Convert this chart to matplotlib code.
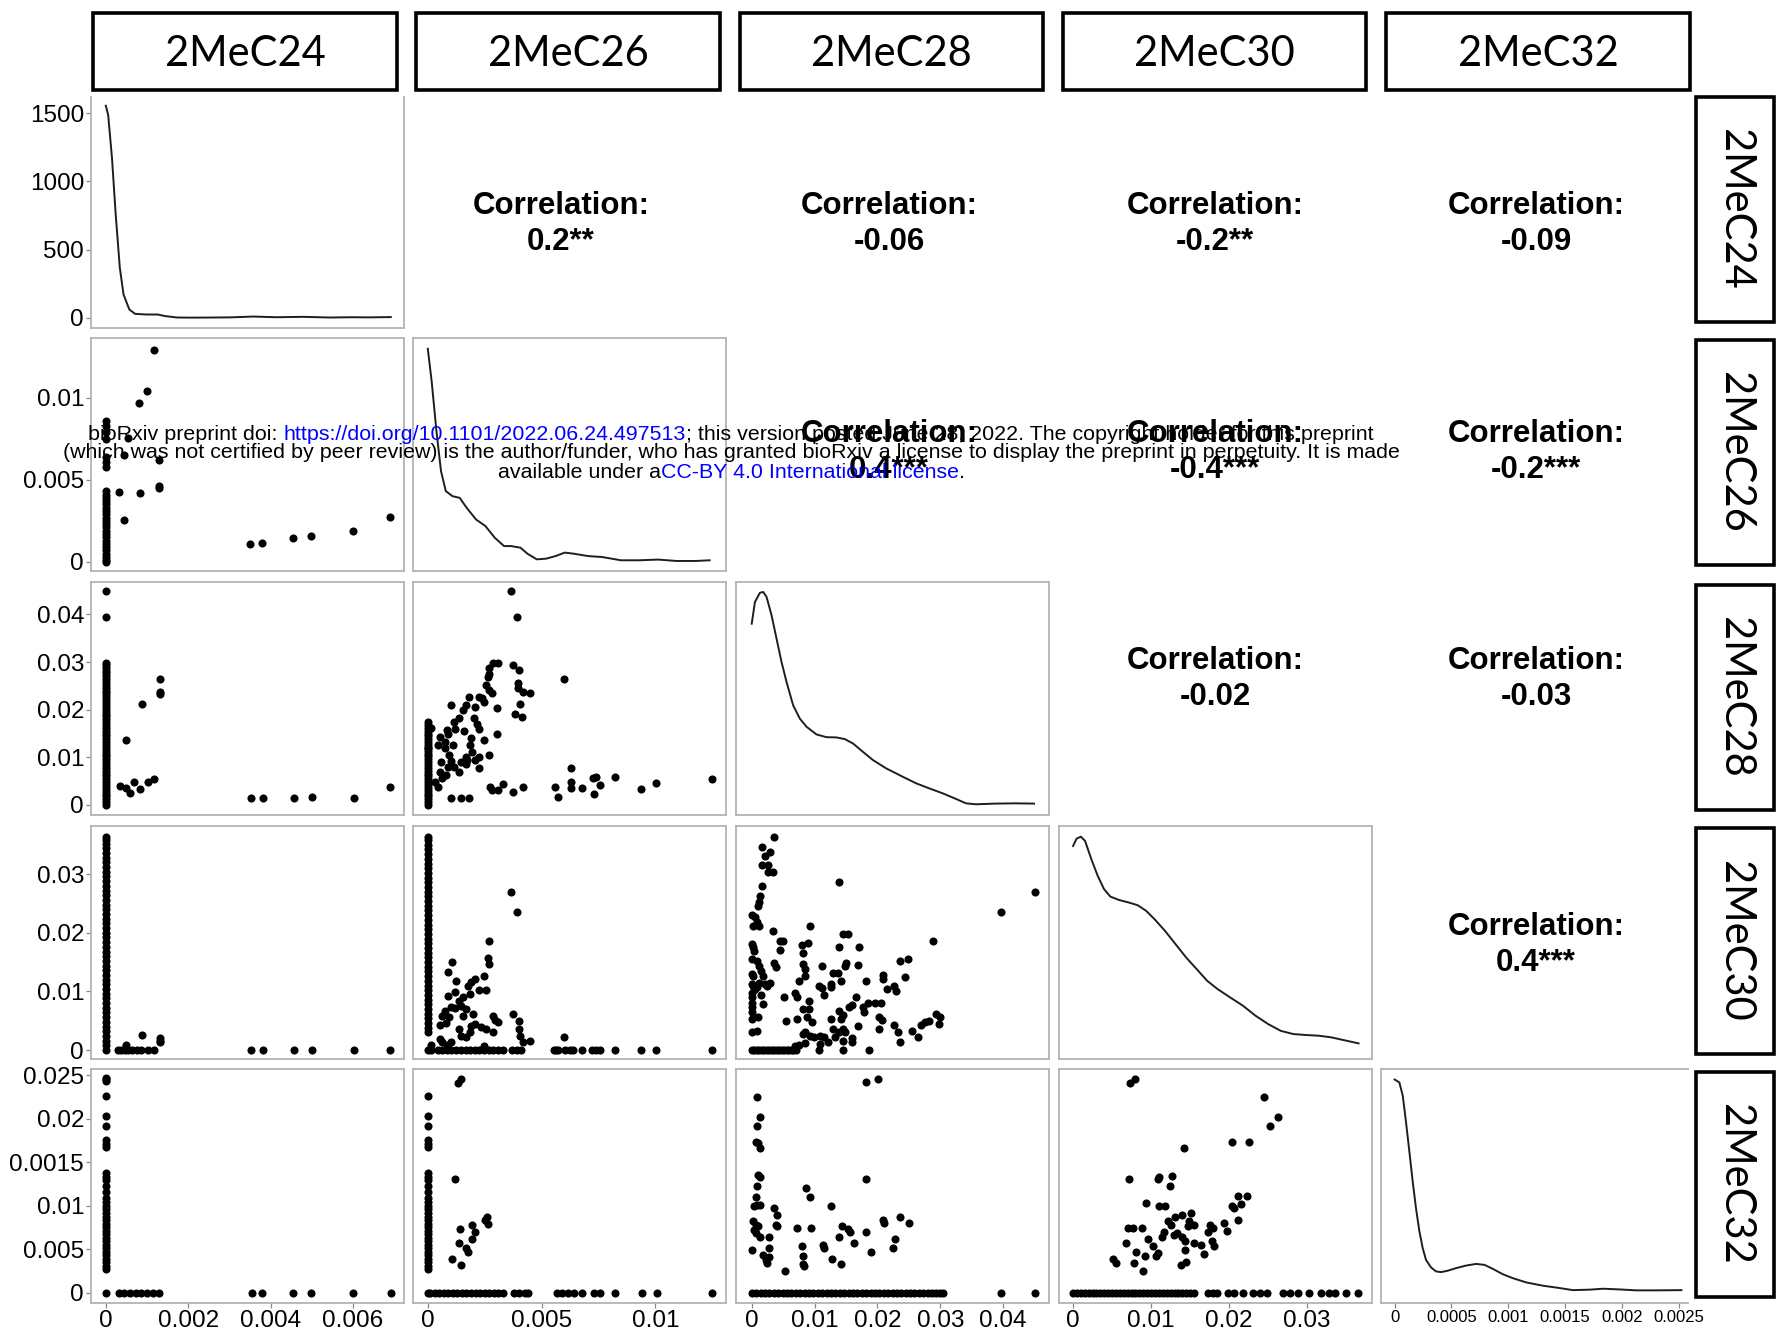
import numpy as np
import matplotlib
matplotlib.use("Agg")
import matplotlib.pyplot as plt
from matplotlib.patches import Rectangle
from matplotlib.offsetbox import TextArea, HPacker, VPacker, AnnotationBbox

# ---------------- data ----------------
variables = ["2MeC24", "2MeC26", "2MeC28", "2MeC30", "2MeC32"]

corr_cells = [(0, 1), (0, 2), (0, 3), (0, 4), (1, 2), (1, 3), (1, 4), (2, 3), (2, 4), (3, 4)]
corr_values = ["0.2**", "-0.06", "-0.2**", "-0.09", "0.4***", "-0.4***", "-0.2***", "-0.02", "-0.03", "0.4***"]

x_ticks = [[0, 0.002, 0.004, 0.006], [0, 0.005, 0.01], [0, 0.01, 0.02, 0.03, 0.04],
           [0, 0.01, 0.02, 0.03], [0, 0.0005, 0.001, 0.0015, 0.002, 0.0025]]
x_ticklabels = [["0", "0.002", "0.004", "0.006"], ["0", "0.005", "0.01"],
                ["0", "0.01", "0.02", "0.03", "0.04"], ["0", "0.01", "0.02", "0.03"],
                ["0", "0.0005", "0.001", "0.0015", "0.002", "0.0025"]]
y_ticks = [[0, 500, 1000, 1500], [0, 0.005, 0.01], [0, 0.01, 0.02, 0.03, 0.04],
           [0, 0.01, 0.02, 0.03], [0, 0.005, 0.01, 0.015, 0.02, 0.025]]
y_ticklabels = [["0", "500", "1000", "1500"], ["0", "0.005", "0.01"],
                ["0", "0.01", "0.02", "0.03", "0.04"], ["0", "0.01", "0.02", "0.03"],
                ["0", "0.005", "0.01", "0.0015", "0.02", "0.025"]]

# density curves (diagonal)
dens24_x = [0.0, 0.000057, 0.00015, 0.00024, 0.00034, 0.00043, 0.00057, 0.00071, 0.00098, 0.00126,
            0.00145, 0.00173, 0.0021, 0.00265, 0.00302, 0.00358, 0.00414, 0.00479, 0.00543, 0.00599,
            0.00636, 0.00692]
dens24_y = [1556, 1488, 1171, 756, 366, 171, 61, 29, 24, 24, 12, 2, 1, 2, 3, 9, 4, 7, 2, 4, 3, 5]

dens26_x = [0.0, 0.00017, 0.00038, 0.00058, 0.00079, 0.00109, 0.0014, 0.00171, 0.00212, 0.00253,
            0.00294, 0.00335, 0.00366, 0.00407, 0.00438, 0.00479, 0.0052, 0.00561, 0.00602, 0.00643,
            0.00705, 0.00766, 0.00848, 0.0093, 0.01012, 0.01094, 0.01177, 0.01238]
dens26_y = [0.954, 0.814, 0.600, 0.429, 0.343, 0.321, 0.314, 0.271, 0.221, 0.193, 0.143, 0.107,
            0.107, 0.100, 0.074, 0.050, 0.053, 0.064, 0.079, 0.074, 0.064, 0.060, 0.046, 0.046,
            0.049, 0.043, 0.043, 0.046]

dens28_x = [0.0, 0.00051, 0.00131, 0.00184, 0.00236, 0.00316, 0.00395, 0.00474, 0.00554, 0.00659,
            0.00765, 0.00871, 0.01029, 0.01188, 0.01347, 0.01479, 0.01611, 0.0177, 0.01928, 0.0214,
            0.02404, 0.02616, 0.02827, 0.03039, 0.0325, 0.03409, 0.03567, 0.03884, 0.04202, 0.04492]
dens28_y = [0.821, 0.914, 0.954, 0.957, 0.936, 0.857, 0.757, 0.657, 0.571, 0.471, 0.414, 0.379,
            0.346, 0.334, 0.333, 0.326, 0.307, 0.271, 0.236, 0.200, 0.164, 0.136, 0.114, 0.093,
            0.069, 0.050, 0.046, 0.049, 0.050, 0.049]

dens30_x = [0.0, 0.00046, 0.001, 0.00154, 0.00235, 0.00316, 0.00397, 0.00478, 0.00585, 0.0072,
            0.00828, 0.00936, 0.01044, 0.01178, 0.01313, 0.01448, 0.01583, 0.01717, 0.01852, 0.02014,
            0.02175, 0.02337, 0.02499, 0.0266, 0.02822, 0.02984, 0.03146, 0.03307, 0.03469, 0.03658]
dens30_y = [0.914, 0.946, 0.954, 0.936, 0.857, 0.786, 0.729, 0.697, 0.683, 0.671, 0.660, 0.636,
            0.600, 0.550, 0.493, 0.436, 0.386, 0.336, 0.300, 0.264, 0.229, 0.186, 0.150, 0.121,
            0.107, 0.103, 0.100, 0.093, 0.081, 0.067]

dens32_x = [0.0, 0.000041, 0.000071, 0.0001, 0.00013, 0.000159, 0.000188, 0.000218, 0.000247,
            0.000276, 0.00032, 0.000364, 0.000408, 0.000467, 0.00054, 0.000628, 0.000716, 0.00079,
            0.000863, 0.000951, 0.00104, 0.001157, 0.001303, 0.00145, 0.001568, 0.001714, 0.001832,
            0.001979, 0.002125, 0.002301, 0.002522]
dens32_y = [0.955, 0.943, 0.887, 0.773, 0.645, 0.518, 0.404, 0.305, 0.234, 0.184, 0.152, 0.135,
            0.132, 0.138, 0.149, 0.160, 0.167, 0.163, 0.146, 0.123, 0.106, 0.088, 0.074, 0.064,
            0.055, 0.057, 0.061, 0.058, 0.054, 0.054, 0.055]

# scatter panels: row variable (y) vs column variable (x)
# 2MeC26 vs 2MeC24
p21_x = [0.00116, 0.00100, 0.00080, 0.00053, 0.00044, 0.00031, 0.00045, 0.00084, 0.00128, 0.00130,
         0.00130, 0.00351, 0.00378, 0.00455, 0.00497, 0.00601, 0.00690]
p21_y = [0.01293, 0.01040, 0.00970, 0.00755, 0.00650, 0.00428, 0.00253, 0.00420, 0.00620, 0.00448,
         0.00465, 0.00109, 0.00113, 0.00147, 0.00158, 0.00190, 0.00275]
p21_strip_y = [0.0000, 0.0001, 0.0003, 0.0005, 0.0007, 0.0009, 0.0011, 0.0013, 0.0015, 0.0017,
               0.0019, 0.0021, 0.0023, 0.0025, 0.0027, 0.0029, 0.0031, 0.0033, 0.0035, 0.0037,
               0.0039, 0.0041, 0.0043, 0.0058, 0.0061, 0.0064, 0.0075, 0.0079, 0.0083, 0.0086]

# 2MeC28 vs 2MeC24
p31_x = [0.00035, 0.00050, 0.00058, 0.00069, 0.00082, 0.00103, 0.00117, 0.00050, 0.00088, 0.00131,
         0.00131, 0.00131, 0.00353, 0.00381, 0.00458, 0.00500, 0.00602, 0.00691]
p31_y = [0.00398, 0.00350, 0.00245, 0.00489, 0.00336, 0.00475, 0.00545, 0.01363, 0.02118, 0.02642,
         0.02363, 0.02328, 0.00154, 0.00140, 0.00154, 0.00161, 0.00154, 0.00377]
p31_strip_y = [0.0000, 0.0006, 0.0012, 0.0018, 0.0024, 0.0030, 0.0036, 0.0042, 0.0048, 0.0054,
               0.0060, 0.0066, 0.0072, 0.0078, 0.0084, 0.0090, 0.0096, 0.0102, 0.0108, 0.0114,
               0.0120, 0.0126, 0.0132, 0.0138, 0.0144, 0.0150, 0.0156, 0.0162, 0.0168, 0.0174,
               0.0180, 0.0186, 0.0192, 0.0198, 0.0204, 0.0210, 0.0216, 0.0222, 0.0228, 0.0234,
               0.0240, 0.0246, 0.0252, 0.0258, 0.0264, 0.0270, 0.0276, 0.0282, 0.0288, 0.0294,
               0.0299, 0.0395, 0.0449]

# 2MeC28 vs 2MeC26
p32_x = [0.00365, 0.0039, 0.00288, 0.00308, 0.00268, 0.00376, 0.00400, 0.00396, 0.00396, 0.0042,
         0.00447, 0.00406, 0.00384, 0.00414, 0.00264, 0.00268, 0.00257, 0.00268, 0.00284, 0.00247,
         0.00227, 0.00237, 0.00182, 0.00206, 0.00166, 0.00155, 0.00104, 0.00135, 0.00114, 0.00202,
         0.00217, 0.00227, 0.00302, 0.00302, 0.00247, 0.00186, 0.00196, 0.00166, 0.00145, 0.00084,
         0.00074, 0.00053, 0.00047, 0.00074, 0.00094, 0.00114, 0.00088, 0.00135, 0.00172, 0.00206,
         0.00227, 0.00223, 0.00268, 0.00053, 0.00063, 0.00043, 0.00002, 0.00013, 0.00272, 0.00284,
         0.00308, 0.00329, 0.00376, 0.0042, 0.00104, 0.00145, 0.00182, 0.00559, 0.00574, 0.00629,
         0.00629, 0.00629, 0.00676, 0.00727, 0.00741, 0.00731, 0.00757, 0.00822, 0.00937, 0.01002,
         0.01247, 0.0060, 0.0009, 0.0012, 0.0016, 0.0011, 0.0019, 0.0006, 0.0010, 0.0017, 0.0008,
         0.0003]
p32_y = [0.0449, 0.0395, 0.0299, 0.0297, 0.0287, 0.0294, 0.0283, 0.0255, 0.0245, 0.0238,
         0.0234, 0.0213, 0.0190, 0.0185, 0.0269, 0.0274, 0.0252, 0.0241, 0.0234, 0.0217,
         0.0227, 0.0225, 0.0227, 0.0206, 0.0210, 0.0199, 0.0210, 0.0182, 0.0175, 0.0182,
         0.0171, 0.0159, 0.0203, 0.0150, 0.0136, 0.0126, 0.0112, 0.0101, 0.0091, 0.0157,
         0.0133, 0.0143, 0.0126, 0.0119, 0.0105, 0.0080, 0.0080, 0.0070, 0.0094, 0.0094,
         0.0077, 0.0101, 0.0105, 0.0070, 0.0056, 0.0038, 0.0119, 0.0161, 0.0038, 0.0031,
         0.0031, 0.0045, 0.0027, 0.0038, 0.00154, 0.00154, 0.00154, 0.0038, 0.0017, 0.0077,
         0.0049, 0.0035, 0.0035, 0.0057, 0.0059, 0.0024, 0.0042, 0.0059, 0.0033, 0.0047,
         0.0055, 0.0264, 0.0148, 0.0160, 0.0155, 0.0125, 0.0140, 0.0090, 0.0092, 0.0085, 0.0062,
         0.0048]
p32_strip_y = [0.0000, 0.0006, 0.0012, 0.0018, 0.0024, 0.0030, 0.0036, 0.0042, 0.0048, 0.0054,
               0.0060, 0.0066, 0.0072, 0.0078, 0.0084, 0.0090, 0.0096, 0.0102, 0.0108, 0.0114,
               0.0120, 0.0126, 0.0132, 0.0138, 0.0144, 0.0150, 0.0156, 0.0162, 0.0168, 0.0174]

# 2MeC30 vs 2MeC24
p41_x = [0.00050, 0.00088, 0.00131, 0.00131, 0.00131]
p41_y = [0.00085, 0.00256, 0.00200, 0.00160, 0.00130]
p41_base_x = [0.00029, 0.00038, 0.00046, 0.00054, 0.00063, 0.00075, 0.00086, 0.00103, 0.00117,
              0.00353, 0.00381, 0.00458, 0.00500, 0.00602, 0.00691]
p41_strip_y = [0.0000, 0.0008, 0.0016, 0.0024, 0.0032, 0.0040, 0.0048, 0.0056, 0.0064, 0.0072,
               0.0080, 0.0088, 0.0096, 0.0104, 0.0112, 0.0120, 0.0128, 0.0136, 0.0144, 0.0152,
               0.0160, 0.0168, 0.0176, 0.0184, 0.0192, 0.0200, 0.0208, 0.0216, 0.0224, 0.0232,
               0.0240, 0.0248, 0.0256, 0.0264, 0.0272, 0.0280, 0.0288, 0.0296, 0.0304, 0.0312,
               0.0320, 0.0328, 0.0336, 0.0344, 0.0352, 0.0358, 0.0364]

# 2MeC30 vs 2MeC26
p42_x = [0.00365, 0.0039, 0.00268, 0.00264, 0.00268, 0.00247, 0.00257, 0.00206, 0.0019, 0.00227,
         0.00176, 0.00108, 0.00088, 0.00125, 0.00088, 0.00121, 0.00186, 0.00155, 0.00135, 0.00145,
         0.00100, 0.00121, 0.00074, 0.00063, 0.00094, 0.0008, 0.00053, 0.00155, 0.00166, 0.0020,
         0.0019, 0.00206, 0.00233, 0.00257, 0.00135, 0.00145, 0.00186, 0.00166, 0.00288, 0.00294,
         0.00308, 0.00288, 0.00374, 0.0040, 0.0040, 0.00404, 0.0042, 0.00451, 0.000125, 0.00053,
         0.00063, 0.00084, 0.00104, 0.00247, 0.0060]
p42_y = [0.02687, 0.02346, 0.01863, 0.01562, 0.01465, 0.01267, 0.01028, 0.0121, 0.01153, 0.01028,
         0.01096, 0.01494, 0.01323, 0.0117, 0.00926, 0.00983, 0.00954, 0.00897, 0.00841, 0.00755,
         0.00727, 0.0071, 0.0067, 0.00585, 0.00557, 0.0046, 0.00426, 0.00585, 0.00699, 0.00613,
         0.00415, 0.00443, 0.00386, 0.00358, 0.00358, 0.00244, 0.00301, 0.00216, 0.00585, 0.00517,
         0.00471, 0.00301, 0.00613, 0.0050, 0.00358, 0.00244, 0.00131, 0.00159, 0.00085, 0.00187,
         0.00131, 0.00085, 0.00131, 0.00074, 0.00216]
p42_base_x = [0.0, 0.000125, 0.00043, 0.00063, 0.00084, 0.00104, 0.00125, 0.00145, 0.00166,
              0.00186, 0.00206, 0.00227, 0.00247, 0.00268, 0.00288, 0.00308, 0.00329, 0.0037,
              0.0039, 0.0041, 0.00553, 0.00563, 0.00574, 0.00604, 0.00625, 0.00639, 0.00676,
              0.0072, 0.00737, 0.00757, 0.00822, 0.00937, 0.01002, 0.01247]
p42_strip_y = [0.0030, 0.0038, 0.0046, 0.0054, 0.0062, 0.0070, 0.0078, 0.0086, 0.0094, 0.0102,
               0.0110, 0.0118, 0.0126, 0.0134, 0.0142, 0.0150, 0.0158, 0.0166, 0.0174, 0.0182,
               0.0190, 0.0198, 0.0206, 0.0214, 0.0222, 0.0230, 0.0238, 0.0246, 0.0254, 0.0262,
               0.0270, 0.0278, 0.0286, 0.0294, 0.0302, 0.0310, 0.0318, 0.0326, 0.0334, 0.0342,
               0.0350, 0.0358, 0.0364]

# 2MeC30 vs 2MeC28
p43_x = [0.00352, 0.00164, 0.00164, 0.00218, 0.00285, 0.00265, 0.00265, 0.00332, 0.00164, 0.01388,
         0.0451, 0.03962, 0.02878, 0.00131, 0.00118, 0.00104, 0.0, 0.00051, 0.00084, 0.00018,
         0.00118, 0.0092, 0.00332, 0.01455, 0.01535, 0.01388, 0.01709, 0.00452, 0.005, 0.00455,
         0.0, 0.0002, 0.0004, 0.00799, 0.009, 0.0082, 0.0, 0.00084, 0.00118, 0.00352,
         0.00385, 0.0082, 0.0084, 0.0112, 0.01508, 0.0149, 0.01689, 0.02357, 0.0249, 0.0,
         0.00018, 0.00151, 0.00185, 0.01288, 0.01374, 0.0085, 0.0209, 0.0209, 0.02443, 0.00753,
         0.01421, 0.01822, 0.0, 0.00018, 0.00051, 0.00084, 0.00118, 0.00218, 0.00251, 0.00285,
         0.01074, 0.01254, 0.02257, 0.0229, 0.02157, 0.0, 0.0, 0.0, 0.0, 0.0,
         0.00151, 0.00185, 0.00519, 0.00686, 0.0072, 0.00906, 0.0082, 0.01154, 0.0112, 0.01254,
         0.01388, 0.01455, 0.01421, 0.01555, 0.01589, 0.01656, 0.01776, 0.01789, 0.01856, 0.01956,
         0.02057, 0.01689, 0.0, 0.00104, 0.00552, 0.0072, 0.00886, 0.00906, 0.00953, 0.01254,
         0.0202, 0.02067, 0.02257, 0.02323, 0.02357, 0.02557, 0.02644, 0.02691, 0.02758, 0.02825,
         0.02939, 0.02992, 0.02972, 0.0, 0.00084, 0.0082, 0.0085, 0.0092, 0.00987, 0.0109,
         0.0115, 0.01288, 0.01388, 0.01455, 0.0149, 0.01321, 0.01455, 0.01589, 0.01589, 0.0202,
         0.00686, 0.00753, 0.0085, 0.0109, 0.0122]
p43_y = [0.0364, 0.0347, 0.0315, 0.0331, 0.0338, 0.0315, 0.0304, 0.0304, 0.0280, 0.0287,
         0.0269, 0.0235, 0.0186, 0.0263, 0.0253, 0.0246, 0.0231, 0.0226, 0.0218, 0.0211,
         0.0212, 0.0212, 0.0203, 0.0198, 0.0198, 0.0175, 0.0175, 0.0186, 0.0186, 0.0170,
         0.0181, 0.0175, 0.0169, 0.0179, 0.0183, 0.0166, 0.0156, 0.0152, 0.0144, 0.0149,
         0.0141, 0.0147, 0.0138, 0.0144, 0.0149, 0.0144, 0.0145, 0.0151, 0.0156, 0.0130,
         0.0127, 0.0135, 0.0127, 0.0132, 0.0132, 0.0127, 0.0128, 0.0121, 0.0125, 0.0118,
         0.0118, 0.0117, 0.0112, 0.0110, 0.0104, 0.0107, 0.0115, 0.0112, 0.0110, 0.0115,
         0.0110, 0.0112, 0.0110, 0.0101, 0.0104, 0.0098, 0.0090, 0.0081, 0.0073, 0.0064,
         0.0093, 0.0078, 0.0090, 0.0098, 0.0090, 0.0084, 0.0070, 0.0093, 0.0105, 0.0107,
         0.0067, 0.0059, 0.0053, 0.0073, 0.0076, 0.0090, 0.0073, 0.0064, 0.0081, 0.0081,
         0.0081, 0.0041, 0.0053, 0.0056, 0.0050, 0.0053, 0.0056, 0.0070, 0.0047, 0.0053,
         0.0056, 0.0052, 0.0043, 0.0030, 0.0013, 0.0033, 0.0022, 0.0043, 0.0048, 0.0050,
         0.0061, 0.0056, 0.0044, 0.0031, 0.0033, 0.0027, 0.0030, 0.0024, 0.0022, 0.0024,
         0.0023, 0.0036, 0.0031, 0.0036, 0.0030, 0.0022, 0.0016, 0.0020, 0.0013, 0.0036,
         0.0007, 0.0009, 0.0012, 0.0010, 0.0013]
p43_base_x = [0.0, 0.0004, 0.0008, 0.0012, 0.0016, 0.0020, 0.0024, 0.0028, 0.0032, 0.0036,
              0.0040, 0.0044, 0.0048, 0.0052, 0.0056, 0.0059, 0.0064, 0.0066, 0.0070, 0.0107,
              0.0145, 0.0186]

# 2MeC32 vs 2MeC24
p51_strip_y = [0.0247, 0.0245, 0.0243, 0.0226, 0.0203, 0.0192, 0.0175, 0.0171, 0.0167, 0.0137,
               0.0133, 0.0129, 0.0122, 0.0116, 0.0109, 0.0104, 0.0100, 0.0096, 0.0091, 0.0087,
               0.0083, 0.0079, 0.0075, 0.0071, 0.0067, 0.0063, 0.0059, 0.0055, 0.0051, 0.0047,
               0.0043, 0.0039, 0.0035, 0.0031, 0.0027, 0.0000]
p51_base_x = [0.000308, 0.000447, 0.000587, 0.000726, 0.000865, 0.001004, 0.001143, 0.001283,
              0.00354, 0.00379, 0.00455, 0.00497, 0.0060, 0.00692]

# 2MeC32 vs 2MeC26
p52_x = [0.00132, 0.00145, 0.00119, 0.00107, 0.00145, 0.00137, 0.00142, 0.00170, 0.00175, 0.00192,
         0.00207, 0.00192, 0.00250, 0.00258, 0.00263]
p52_y = [0.0241, 0.0245, 0.0131, 0.0039, 0.0032, 0.0057, 0.0073, 0.0051, 0.0047, 0.0062,
         0.0070, 0.0078, 0.0083, 0.0087, 0.0079]
p52_strip_y = [0.0226, 0.0203, 0.0192, 0.0175, 0.0171, 0.0167, 0.0137, 0.0133, 0.0129, 0.0122,
               0.0116, 0.0109, 0.0104, 0.0100, 0.0096, 0.0091, 0.0087, 0.0083, 0.0079, 0.0075,
               0.0071, 0.0067, 0.0063, 0.0059, 0.0055, 0.0051, 0.0047, 0.0043, 0.0039, 0.0035,
               0.0031, 0.0027]
p52_base_x = [0.0000, 0.0001, 0.0003, 0.0005, 0.0007, 0.0009, 0.0011, 0.0013, 0.0015, 0.0017,
              0.0019, 0.0021, 0.0023, 0.0025, 0.0027, 0.0029, 0.0031, 0.0033, 0.00377, 0.00402,
              0.00427, 0.0044, 0.00566, 0.00591, 0.00616, 0.00642, 0.00679, 0.0073, 0.00755,
              0.00823, 0.0094, 0.01007, 0.01247]

# 2MeC32 vs 2MeC28
p53_x = [0.00088, 0.00133, 0.00088, 0.0007, 0.00106, 0.00133, 0.00106, 0.00133, 0.00088, 0.0007,
         0.00043, 0.00088, 0.00133, 0.00024, 0.0007, 0.00106, 0.00043, 0.00133, 0.0007, 0.0,
         0.0018, 0.00225, 0.00271, 0.00271, 0.00362, 0.00408, 0.0038, 0.00408, 0.00271, 0.00244,
         0.00527, 0.00728, 0.00801, 0.00819, 0.00819, 0.00837, 0.00865, 0.00929, 0.00938, 0.01139,
         0.01157, 0.01258, 0.01276, 0.01386, 0.01441, 0.01414, 0.01532, 0.01569, 0.01624, 0.01825,
         0.02008, 0.01825, 0.01825, 0.01898, 0.02081, 0.02099, 0.02282, 0.02254, 0.0236, 0.02496]
p53_y = [0.0225, 0.0202, 0.0191, 0.0173, 0.0172, 0.0166, 0.0135, 0.0133, 0.0122, 0.0110,
         0.0099, 0.0101, 0.0101, 0.0082, 0.0078, 0.0076, 0.0072, 0.0064, 0.0068, 0.0049,
         0.0043, 0.0038, 0.0051, 0.0041, 0.0097, 0.0089, 0.0078, 0.0076, 0.0064, 0.0034,
         0.0025, 0.0074, 0.0053, 0.0042, 0.0033, 0.0030, 0.0120, 0.0110, 0.0074, 0.0055,
         0.0051, 0.0100, 0.0039, 0.0064, 0.0077, 0.0033, 0.0073, 0.0070, 0.0057, 0.0242,
         0.0246, 0.0131, 0.0070, 0.0047, 0.0083, 0.0080, 0.0062, 0.0051, 0.0087, 0.0080]
p53_base_x = [0.0000, 0.0007, 0.0014, 0.0021, 0.0028, 0.0035, 0.0042, 0.0049, 0.0056, 0.0063,
              0.0070, 0.0077, 0.0084, 0.0091, 0.0098, 0.0105, 0.0112, 0.0119, 0.0126, 0.0133,
              0.0140, 0.0147, 0.0154, 0.0161, 0.0168, 0.0175, 0.0182, 0.0189, 0.0196, 0.0203,
              0.0210, 0.0217, 0.0224, 0.0231, 0.0238, 0.0245, 0.0252, 0.0259, 0.0266, 0.0273,
              0.0280, 0.0287, 0.0294, 0.0300, 0.0305, 0.0396, 0.0450]

# 2MeC32 vs 2MeC30
p54_x = [0.00735, 0.00794, 0.02451, 0.02628, 0.02525, 0.01418, 0.02038, 0.0226, 0.0072, 0.01104,
         0.01274, 0.01082, 0.01237, 0.01104, 0.01178, 0.00934, 0.02112, 0.0223, 0.02156, 0.02038,
         0.02061, 0.00698, 0.00772, 0.00883, 0.01215, 0.01252, 0.01304, 0.0140, 0.01511, 0.01489,
         0.01548, 0.01474, 0.01755, 0.01792, 0.01733, 0.0193, 0.01974, 0.02112, 0.0117, 0.01134,
         0.01296, 0.01333, 0.00683, 0.00957, 0.0140, 0.01437, 0.01548, 0.01637, 0.01777, 0.0180,
         0.00809, 0.0092, 0.01066, 0.01082, 0.01029, 0.01681, 0.01437, 0.00513, 0.0055, 0.00787,
         0.00898, 0.01378, 0.01452]
p54_y = [0.0241, 0.0245, 0.0225, 0.0202, 0.0191, 0.0166, 0.0173, 0.0173, 0.0131, 0.0133,
         0.0134, 0.0130, 0.0122, 0.0100, 0.0100, 0.0103, 0.0111, 0.0111, 0.0102, 0.0099,
         0.0097, 0.0074, 0.0074, 0.0074, 0.0082, 0.0078, 0.0087, 0.0089, 0.0091, 0.0082,
         0.0078, 0.0076, 0.0078, 0.0074, 0.0070, 0.0080, 0.0071, 0.0083, 0.0070, 0.0064,
         0.0066, 0.0068, 0.0057, 0.0062, 0.0064, 0.0059, 0.0057, 0.0055, 0.0059, 0.0053,
         0.0047, 0.0042, 0.0042, 0.0045, 0.0053, 0.0044, 0.0049, 0.0039, 0.0034, 0.0034,
         0.0025, 0.0032, 0.0035]
p54_base_x = [0.0000, 0.0005, 0.0010, 0.0015, 0.0020, 0.0025, 0.0030, 0.0035, 0.0040, 0.0045,
              0.0050, 0.0055, 0.0060, 0.0065, 0.0070, 0.0075, 0.0080, 0.0085, 0.0090, 0.0095,
              0.0100, 0.0105, 0.0110, 0.0115, 0.0120, 0.0125, 0.0130, 0.0135, 0.0140, 0.0145,
              0.0150, 0.01547, 0.01732, 0.01791, 0.01843, 0.01991, 0.02065, 0.02176, 0.02309,
              0.02398, 0.02486, 0.02693, 0.02782, 0.02878, 0.03026, 0.03174, 0.03285, 0.03359,
              0.03492, 0.03655]

# ---------------- layout / style ----------------
W, H = 1784, 1333
fig = plt.figure(figsize=(W / 100, H / 100), dpi=100)
fig.patch.set_facecolor("white")

COL_PX = [(91, 404), (413, 726), (736, 1049), (1059, 1372), (1381, 1688)]
ROW_PX = [(97, 328), (338, 571), (582, 815), (826, 1059), (1069, 1303)]
XLIM = [(-0.00036, 0.00724), (-0.00065, 0.0131), (-0.0025, 0.0473), (-0.0018, 0.0383), (-0.00012, 0.00258)]
YLIM = [(-75, 1620), (-0.00056, 0.01365), (-0.0021, 0.0468), (-0.00153, 0.0382), (-0.0012, 0.0257)]

TICK_FONT = ["Liberation Sans", "DejaVu Sans"]
STRIP_FONT = ["Lato", "DejaVu Sans"]
CORR_FONT = ["Liberation Sans", "DejaVu Sans"]
BORDER = "#b3b3b3"


def fig_rect(x0, x1, y0, y1):
    return [x0 / W, 1 - y1 / H, (x1 - x0) / W, (y1 - y0) / H]


dens = {0: (dens24_x, dens24_y), 1: (dens26_x, dens26_y), 2: (dens28_x, dens28_y),
        3: (dens30_x, dens30_y), 4: (dens32_x, dens32_y)}

scatter = {
    (1, 0): [(p21_x, p21_y), ([0.0] * len(p21_strip_y), p21_strip_y)],
    (2, 0): [(p31_x, p31_y), ([0.0] * len(p31_strip_y), p31_strip_y)],
    (2, 1): [(p32_x, p32_y), ([0.0] * len(p32_strip_y), p32_strip_y)],
    (3, 0): [(p41_x, p41_y), (p41_base_x, [0.0] * len(p41_base_x)),
             ([0.0] * len(p41_strip_y), p41_strip_y)],
    (3, 1): [(p42_x, p42_y), (p42_base_x, [0.0] * len(p42_base_x)),
             ([0.0] * len(p42_strip_y), p42_strip_y)],
    (3, 2): [(p43_x, p43_y), (p43_base_x, [0.0] * len(p43_base_x))],
    (4, 0): [(p51_base_x, [0.0] * len(p51_base_x)), ([0.0] * len(p51_strip_y), p51_strip_y)],
    (4, 1): [(p52_x, p52_y), (p52_base_x, [0.0] * len(p52_base_x)),
             ([0.0] * len(p52_strip_y), p52_strip_y)],
    (4, 2): [(p53_x, p53_y), (p53_base_x, [0.0] * len(p53_base_x))],
    (4, 3): [(p54_x, p54_y), (p54_base_x, [0.0] * len(p54_base_x))],
}

for r in range(5):
    for c in range(r + 1):
        x0, x1 = COL_PX[c]
        y0, y1 = ROW_PX[r]
        ax = fig.add_axes(fig_rect(x0, x1, y0, y1))
        ax.set_facecolor("white")
        ax.set_xlim(*XLIM[c])
        for sp in ax.spines.values():
            sp.set_color(BORDER)
            sp.set_linewidth(1.3)
        if r == c:
            dx, dy = dens[r]
            ax.plot(dx, dy, color="#1e1e1e", lw=1.4, solid_joinstyle="round")
            if r == 0:
                ax.set_ylim(*YLIM[0])
                ax.spines["top"].set_visible(False)
            else:
                ax.set_ylim(0, 1)
            if r == 4:
                ax.spines["right"].set_visible(False)
        else:
            ax.set_ylim(*YLIM[r])
            for xs, ys in scatter[(r, c)]:
                ax.scatter(xs, ys, s=34, color="black", linewidths=0, zorder=3)
        # ticks
        if c == 0:
            ax.set_yticks(y_ticks[r])
            ax.set_yticklabels(y_ticklabels[r], family=TICK_FONT, fontsize=17.5)
        else:
            ax.set_yticks([])
        if r == 4:
            ax.set_xticks(x_ticks[c])
            ax.set_xticklabels(x_ticklabels[c], family=TICK_FONT,
                               fontsize=(12.0 if c == 4 else 17.5))
        else:
            ax.set_xticks([])
        ax.tick_params(axis="both", color="#888888", length=3.5, width=0.9, pad=1.5,
                       labelcolor="black")

# correlation text (upper triangle)
COL_CX = [250, 561, 889, 1215, 1536]
ROW_TXT = [(206, 242), (434, 470), (661, 697), (927, 963)]
for (r, c), val in zip(corr_cells, corr_values):
    ya, yb = ROW_TXT[r]
    fig.text(COL_CX[c] / W, 1 - ya / H, "Correlation:", ha="center", va="center",
             fontsize=22.5, fontweight="bold", family=CORR_FONT, color="black")
    fig.text(COL_CX[c] / W, 1 - yb / H, val, ha="center", va="center",
             fontsize=22.5, fontweight="bold", family=CORR_FONT, color="black")

# strips
COL_STRIP_X = [(93, 397), (416, 720), (740, 1043), (1063, 1366), (1386, 1690)]
COL_STRIP_Y = (13, 90)
ROW_STRIP_X = (1696, 1774)
ROW_STRIP_Y = [(97, 322), (340, 565), (585, 810), (828, 1054), (1072, 1297)]
for i, name in enumerate(variables):
    x0, x1 = COL_STRIP_X[i]
    y0, y1 = COL_STRIP_Y
    fig.add_artist(Rectangle((x0 / W, 1 - y1 / H), (x1 - x0) / W, (y1 - y0) / H,
                             transform=fig.transFigure, facecolor="white",
                             edgecolor="black", lw=2.6))
    fig.text((x0 + x1) / 2 / W, 1 - ((y0 + y1) / 2 + 2) / H, name, ha="center", va="center",
             fontsize=30, family=STRIP_FONT)
    x0, x1 = ROW_STRIP_X
    y0, y1 = ROW_STRIP_Y[i]
    fig.add_artist(Rectangle((x0 / W, 1 - y1 / H), (x1 - x0) / W, (y1 - y0) / H,
                             transform=fig.transFigure, facecolor="white",
                             edgecolor="black", lw=2.6))
    fig.text((x0 + x1) / 2 / W, 1 - (y0 + y1) / 2 / H, name, ha="center", va="center",
             fontsize=30, family=STRIP_FONT, rotation=-90)

# bioRxiv watermark
WM_FONT = ["Liberation Sans", "DejaVu Sans"]
BLUE = "#0000ff"


def wm_line(parts):
    return HPacker(children=[TextArea(t, textprops=dict(color=col, fontsize=15.4, family=WM_FONT))
                             for t, col in parts], pad=0, sep=0, align="baseline")


lines = [
    wm_line([("bioRxiv preprint doi: ", "black"),
             ("https://doi.org/10.1101/2022.06.24.497513", BLUE),
             ("; this version posted June 28, 2022. The copyright holder for this preprint", "black")]),
    wm_line([("(which was not certified by peer review) is the author/funder, who has granted bioRxiv "
              "a license to display the preprint in perpetuity. It is made", "black")]),
    wm_line([("available under a", "black"), ("CC-BY 4.0 International license", BLUE), (".", "black")]),
]
block = VPacker(children=lines, pad=0, sep=0, align="center")
overlay = fig.add_axes([0, 0, 1, 1])
overlay.set_axis_off()
overlay.set_zorder(20)
overlay.patch.set_visible(False)
ab = AnnotationBbox(block, (731 / W, 1 - 453 / H), xycoords="axes fraction", frameon=False,
                    box_alignment=(0.5, 0.5))
overlay.add_artist(ab)

fig.savefig("out.png", dpi=100, facecolor="white")
